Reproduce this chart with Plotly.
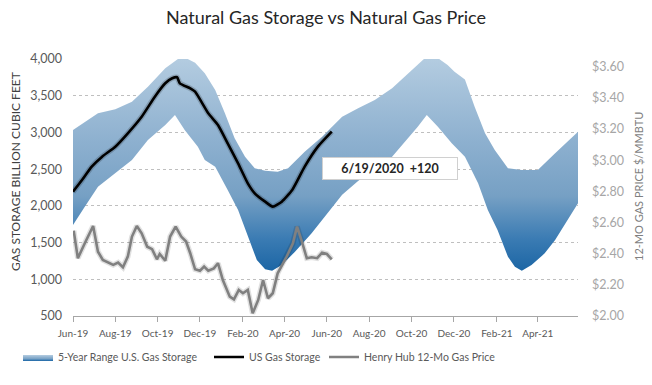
import plotly.graph_objects as go

# ---- data ----
band_upper_dates = ["2019-06-01", "2019-06-18", "2019-07-07", "2019-08-01", "2019-08-25", "2019-09-17",
                    "2019-10-12", "2019-11-05", "2019-11-24", "2019-12-08", "2019-12-23", "2020-01-06",
                    "2020-01-20", "2020-02-04", "2020-02-18", "2020-03-04", "2020-03-22", "2020-04-06",
                    "2020-04-30", "2020-05-25", "2020-06-13", "2020-06-23", "2020-07-16", "2020-08-09",
                    "2020-09-03", "2020-09-26", "2020-10-20", "2020-11-04", "2020-11-22", "2020-12-02",
                    "2020-12-17", "2020-12-31", "2021-01-15", "2021-01-29", "2021-02-17", "2021-03-09",
                    "2021-04-01", "2021-04-26", "2021-05-29"]
band_upper = [3033, 3146, 3260, 3315, 3419, 3623,
              3873, 4040, 3950, 3805, 3578, 3260,
              2920, 2670, 2511, 2479, 2466, 2511,
              2737, 2942, 3124, 3214, 3328, 3442,
              3601, 3805, 4010, 4040, 3918, 3827,
              3720, 3351, 2988, 2761, 2511, 2488,
              2488, 2716, 3010]

band_lower_dates = ["2019-06-01", "2019-06-18", "2019-07-07", "2019-08-01", "2019-08-25", "2019-09-17",
                    "2019-10-12", "2019-10-26", "2019-11-09", "2019-11-28", "2019-12-08", "2019-12-23",
                    "2020-01-10", "2020-01-25", "2020-02-08", "2020-02-21", "2020-03-04", "2020-03-14",
                    "2020-03-28", "2020-04-16", "2020-05-10", "2020-06-02", "2020-06-23", "2020-07-16",
                    "2020-08-09", "2020-09-03", "2020-09-26", "2020-10-10", "2020-10-23", "2020-11-08",
                    "2020-11-28", "2020-12-17", "2021-01-05", "2021-01-19", "2021-02-02", "2021-02-17",
                    "2021-02-27", "2021-03-09", "2021-03-23", "2021-04-11", "2021-04-26", "2021-05-29"]
band_lower = [1739, 1989, 2261, 2443, 2624, 2897,
              3101, 3237, 3033, 2806, 2624, 2534,
              2216, 1943, 1580, 1262, 1136, 1117,
              1194, 1375, 1626, 1900, 2150, 2340,
              2511, 2670, 2920, 3078, 3237, 3078,
              2852, 2670, 2307, 1943, 1671, 1307,
              1171, 1117, 1194, 1353, 1535, 2034]

storage_dates = ["2019-06-01", "2019-06-14", "2019-06-28", "2019-07-13", "2019-08-01", "2019-08-19",
                 "2019-09-08", "2019-09-27", "2019-10-12", "2019-10-22", "2019-10-29", "2019-11-02",
                 "2019-11-17", "2019-11-24", "2019-12-13", "2019-12-27", "2020-01-10", "2020-01-25",
                 "2020-02-08", "2020-02-18", "2020-03-04", "2020-03-15", "2020-03-28", "2020-04-12",
                 "2020-04-30", "2020-05-19", "2020-06-08"]
storage = [2193, 2352, 2534, 2670, 2806, 2988,
           3214, 3487, 3669, 3737, 3751, 3669,
           3601, 3555, 3260, 3101, 2852, 2579,
           2307, 2171, 2057, 1989, 2057, 2216,
           2534, 2806, 3010]

price_dates = ["2019-06-02", "2019-06-08", "2019-06-18", "2019-06-30", "2019-07-07", "2019-07-14",
               "2019-07-29", "2019-08-05", "2019-08-12", "2019-08-19", "2019-08-25", "2019-09-01",
               "2019-09-08", "2019-09-16", "2019-09-23", "2019-09-30", "2019-10-04", "2019-10-12",
               "2019-10-19", "2019-10-27", "2019-11-04", "2019-11-11", "2019-11-17", "2019-11-24",
               "2019-12-01", "2019-12-07", "2019-12-13", "2019-12-21", "2019-12-27", "2020-01-03",
               "2020-01-13", "2020-01-19", "2020-01-26", "2020-02-01", "2020-02-08", "2020-02-15",
               "2020-02-23", "2020-03-01", "2020-03-08", "2020-03-15", "2020-03-22", "2020-04-04",
               "2020-04-13", "2020-04-19", "2020-04-26", "2020-05-03", "2020-05-10", "2020-05-18",
               "2020-05-25", "2020-06-01", "2020-06-08"]
price = [2.548, 2.371, 2.467, 2.578, 2.413, 2.360,
         2.328, 2.343, 2.313, 2.381, 2.510, 2.578,
         2.531, 2.445, 2.429, 2.364, 2.398, 2.355,
         2.510, 2.574, 2.510, 2.478, 2.403, 2.300,
         2.291, 2.317, 2.291, 2.306, 2.339, 2.231,
         2.124, 2.107, 2.167, 2.146, 2.167, 2.017,
         2.103, 2.231, 2.114, 2.146, 2.274, 2.381,
         2.467, 2.574, 2.478, 2.371, 2.377, 2.371,
         2.407, 2.398, 2.364]

title_text = "Natural Gas Storage vs Natural Gas Price"
left_title = "GAS STORAGE BILLION CUBIC FEET"
right_title = "12-MO GAS PRICE $/MMBTU"
callout_text = "6/19/2020  +120"

FONT = "Lato, 'Open Sans', sans-serif"
W, H = 652, 385
L, R, T, B = 73, 74, 59, 69

fig = go.Figure()

fig.add_trace(go.Scatter(
    x=band_upper_dates + band_lower_dates[::-1],
    y=band_upper + band_lower[::-1],
    fill="toself",
    fillgradient=dict(type="vertical", start=1100, stop=4050,
                      colorscale=[[0.0, "#1b65a4"], [0.15, "#3a7bb3"], [0.35, "#76a0c4"],
                                  [0.6, "#8db0cf"], [1.0, "#b5cde1"]]),
    line=dict(width=0, color="#8db0cf"),
    mode="lines",
    name="5-Year Range U.S. Gas Storage",
    hoverinfo="skip",
    legend="legend",
))

fig.add_trace(go.Scatter(
    x=storage_dates, y=storage, mode="lines",
    line=dict(color="rgba(0,0,0,0.18)", width=5.5, shape="spline", smoothing=0.5),
    showlegend=False, hoverinfo="skip",
))
fig.add_trace(go.Scatter(
    x=storage_dates, y=storage, mode="lines",
    line=dict(color="#000000", width=2.6, shape="spline", smoothing=0.5),
    name="US Gas Storage", legend="legend2",
))

fig.add_trace(go.Scatter(
    x=price_dates, y=price, mode="lines", yaxis="y2",
    line=dict(color="rgba(0,0,0,0.12)", width=5.5),
    showlegend=False, hoverinfo="skip",
))
fig.add_trace(go.Scatter(
    x=price_dates, y=price, mode="lines", yaxis="y2",
    line=dict(color="#808080", width=2.6),
    name="Henry Hub 12-Mo Gas Price", legend="legend3",
))

legend_common = dict(orientation="h", xref="container", yref="container", yanchor="middle",
                     y=1 - 357 / H, bgcolor="rgba(0,0,0,0)",
                     font=dict(family=FONT, size=10.5, color="#595959"))

fig.update_layout(
    width=W, height=H,
    margin=dict(l=L, r=R, t=T, b=B, autoexpand=False),
    paper_bgcolor="white", plot_bgcolor="white",
    title=dict(text=title_text, x=0.5, xref="container", xanchor="center",
               y=1 - 18 / H, yref="container", yanchor="middle",
               font=dict(family=FONT, size=18, color="#262626")),
    xaxis=dict(type="date", range=["2019-06-01", "2021-05-29"],
               tick0="2019-06-01", dtick="M2", tickformat="%b-%y",
               showgrid=False, showline=True, linecolor="#a6a6a6", linewidth=1,
               ticks="outside", ticklen=5, tickcolor="#a6a6a6",
               ticklabelstandoff=3,
               tickfont=dict(family=FONT, size=10, color="#595959"),
               zeroline=False),
    yaxis=dict(range=[500, 4000], dtick=500, tick0=500, tickformat=",",
               showgrid=True, gridcolor="#bfbfbf", griddash="dot", gridwidth=1,
               zeroline=False, showline=False, ticks="",
               ticklabelstandoff=10,
               tickfont=dict(family=FONT, size=12.5, color="#595959")),
    yaxis2=dict(range=[2.0, 3.65], dtick=0.2, tick0=2.0, tickformat="$.2f",
                overlaying="y", side="right", showgrid=False, zeroline=False,
                showline=False, ticks="", ticklabelstandoff=13,
                tickfont=dict(family=FONT, size=12.5, color="#a6a6a6")),
    legend=dict(x=(60 - 42) / W, **legend_common),
    legend2=dict(x=(251 - 42) / W, **legend_common),
    legend3=dict(x=(366 - 42) / W, **legend_common),
    showlegend=True,
)

pw = W - L - R
ph = H - T - B
fig.add_annotation(text=left_title, textangle=-90, xref="paper", yref="paper",
                   x=(15 - L) / pw, y=(H - B - 172) / ph, xanchor="center", yanchor="middle",
                   showarrow=False, font=dict(family=FONT, size=12, color="#404040"))
fig.add_annotation(text=right_title, textangle=-90, xref="paper", yref="paper",
                   x=(638 - L) / pw, y=(H - B - 187) / ph, xanchor="center", yanchor="middle",
                   showarrow=False, font=dict(family=FONT, size=11, color="#7f7f7f"))
fig.add_annotation(text="<b>" + callout_text + "</b>", xref="paper", yref="paper",
                   x=(390 - L) / pw, y=(H - B - 168) / ph, xanchor="center", yanchor="middle",
                   showarrow=False, bgcolor="white", bordercolor="#d0d0d0", borderwidth=1,
                   borderpad=3, width=128,
                   font=dict(family=FONT, size=12.5, color="#262626"))

fig.write_html("out.html", config={"displayModeBar": False},
               post_script="document.body.style.margin='0px';")
